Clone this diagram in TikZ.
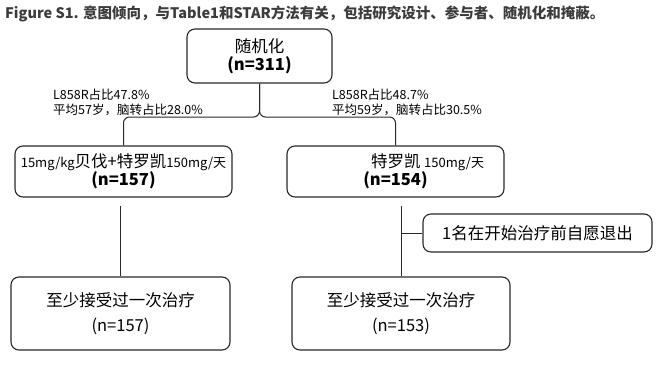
\documentclass[tikz,border=0pt]{standalone}
\usepackage{fontspec}
\usepackage{xcolor}
\usepackage{tikz}
\usetikzlibrary{positioning, calc}
\newfontfamily\cjk{Noto Sans CJK SC}
\definecolor{mydark}{RGB}{40,40,40}
\definecolor{mytitle}{RGB}{60,60,60}
\newcommand{\dose}[1]{{\fontsize{13}{15}\selectfont #1}}
\tikzset{
  box/.style={rectangle, draw=mydark, rounded corners=8pt, line width=1.1pt,
    align=center, inner sep=0pt, text=black,
    font=\cjk\fontsize{16.5}{18}\selectfont},
  endbox/.style={box, font=\cjk\fontsize{16.5}{25}\selectfont},
  note/.style={align=left, inner sep=0pt, text=black,
    font=\cjk\fontsize{12.5}{15}\selectfont},
  line/.style={line width=1pt, color=mydark}
}

\begin{document}
\begin{tikzpicture}[x=1pt, y=-1pt]
  \useasboundingbox (0,0) rectangle (664,386);

  % Title
  \node[anchor=west, inner sep=0pt, text=mytitle, font=\cjk\bfseries\fontsize{14.5}{16}\selectfont] (title) at (5,14)
    {Figure S1. 意图倾向，与Table1和STAR方法有关，包括研究设计、参与者、随机化和掩蔽。};

  % Randomisation
  \node[box, minimum width=145pt, minimum height=54pt] (rand) at (259.5,56) {随机化\\\textbf{(n=311)}};

  % Arms
  \node[box, minimum width=217pt, minimum height=51pt] (arm1) at (123.5,171.5)
    {\dose{15mg/kg}贝伐+特罗凯\dose{150mg/天}\\\textbf{(n=157)}};
  \node[box, minimum width=217pt, minimum height=51pt] (arm2) at (395.5,171.5)
    {\hspace*{64pt}特罗凯 \dose{150mg/天}\\\textbf{(n=154)}};

  % Arm notes
  \node[note, anchor=west] (note1) at (53,102.5) {L858R占比47.8\%\\平均57岁，脑转占比28.0\%};
  \node[note, anchor=west] (note2) at (332,102.5) {L858R占比48.7\%\\平均59岁，脑转占比30.5\%};

  % Withdrawal
  \node[box, minimum width=229pt, minimum height=38pt] (exit) at (537.5,233) {1名在开始治疗前自愿退出};

  % Treated
  \node[endbox, minimum width=219pt, minimum height=73pt] (done1) at (120.5,313.5) {至少接受过一次治疗\\(n=157)};
  \node[endbox, minimum width=218pt, minimum height=73pt] (done2) at (401,313.5) {至少接受过一次治疗\\(n=153)};

  % Paths
  \coordinate (split) at (0,117);
  \draw[line, rounded corners=6pt] (rand.south) -- (rand.south |- split) -| (arm1.north);
  \draw[line, rounded corners=6pt] (rand.south) -- (rand.south |- split) -| (arm2.north);
  \draw[line, shorten <=8pt] (done1.north |- arm1.south) -- (done1.north);
  \draw[line, shorten <=8pt] (done2.north |- arm2.south) -- (done2.north);
  \draw[line] (exit.west) -- (exit.west -| done2.north);
\end{tikzpicture}
\end{document}
